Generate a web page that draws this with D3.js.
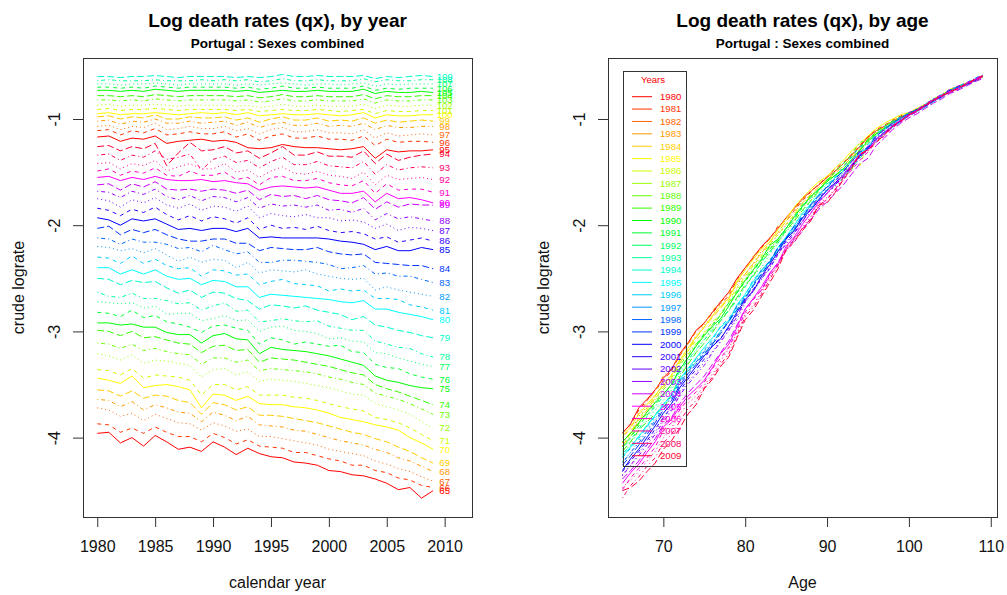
<!DOCTYPE html>
<html>
<head>
<meta charset="utf-8">
<script src="https://cdn.jsdelivr.net/npm/d3@7"></script>
<style>
  body { margin: 0; background: #fff; }
  svg { font-family: "Liberation Sans", Arial, sans-serif; }
</style>
</head>
<body>
<svg id="chart" width="1007" height="595"></svg>
<script>
// calendar years and ages in the table
const years = [1980,1981,1982,1983,1984,1985,1986,1987,1988,1989,1990,1991,1992,1993,1994,
               1995,1996,1997,1998,1999,2000,2001,2002,2003,2004,2005,2006,2007,2008,2009];
const ages = [65,66,67,68,69,70,71,72,73,74,75,76,77,78,79,80,81,82,83,84,85,86,87,88,89,
              90,91,92,93,94,95,96,97,98,99,100,101,102,103,104,105,106,107,108,109];

// tick labels
const yearTicks = [1980,1985,1990,1995,2000,2005,2010];
const ageTicks = [70,80,90,100,110];
const rateTicks = [-4,-3,-2,-1];

// crude log death rates, one array per age, 1980..2009
const r65 = [-3.96,-3.95,-4.05,-4.00,-4.08,-3.98,-4.04,-4.11,-4.09,-4.13,-4.04,-4.09,-4.16,-4.10,-4.15,-4.18,-4.19,-4.23,-4.24,-4.26,-4.31,-4.32,-4.35,-4.36,-4.39,-4.43,-4.49,-4.47,-4.57,-4.50];
const r66 = [-3.87,-3.88,-3.95,-3.91,-3.96,-3.90,-3.95,-3.99,-3.99,-4.04,-3.96,-4.00,-4.06,-4.02,-4.08,-4.09,-4.10,-4.14,-4.14,-4.17,-4.20,-4.22,-4.26,-4.26,-4.31,-4.33,-4.38,-4.40,-4.45,-4.47];
const r67 = [-3.72,-3.74,-3.80,-3.77,-3.84,-3.78,-3.82,-3.86,-3.87,-3.93,-3.86,-3.89,-3.94,-3.92,-3.99,-3.99,-4.01,-4.03,-4.05,-4.07,-4.11,-4.13,-4.15,-4.17,-4.22,-4.25,-4.29,-4.32,-4.37,-4.41];
const r68 = [-3.64,-3.65,-3.71,-3.66,-3.74,-3.69,-3.72,-3.76,-3.77,-3.85,-3.76,-3.79,-3.84,-3.80,-3.88,-3.89,-3.90,-3.93,-3.94,-3.97,-4.00,-4.03,-4.05,-4.07,-4.11,-4.14,-4.19,-4.22,-4.27,-4.32];
const r69 = [-3.55,-3.56,-3.61,-3.56,-3.63,-3.60,-3.61,-3.65,-3.67,-3.78,-3.67,-3.69,-3.74,-3.71,-3.79,-3.79,-3.80,-3.82,-3.84,-3.86,-3.89,-3.92,-3.95,-3.97,-4.01,-4.04,-4.09,-4.13,-4.19,-4.24];
const r70 = [-3.44,-3.46,-3.49,-3.42,-3.53,-3.51,-3.50,-3.52,-3.55,-3.72,-3.59,-3.60,-3.65,-3.61,-3.68,-3.69,-3.69,-3.71,-3.72,-3.74,-3.77,-3.81,-3.83,-3.85,-3.88,-3.90,-3.93,-4.00,-4.05,-4.11];
const r71 = [-3.36,-3.37,-3.41,-3.35,-3.44,-3.41,-3.42,-3.43,-3.46,-3.60,-3.50,-3.50,-3.55,-3.52,-3.60,-3.60,-3.60,-3.62,-3.63,-3.65,-3.68,-3.71,-3.73,-3.75,-3.81,-3.83,-3.86,-3.91,-3.97,-4.03];
const r72 = [-3.21,-3.23,-3.27,-3.22,-3.30,-3.27,-3.28,-3.30,-3.32,-3.43,-3.36,-3.35,-3.41,-3.38,-3.47,-3.45,-3.46,-3.47,-3.49,-3.51,-3.53,-3.56,-3.59,-3.60,-3.68,-3.71,-3.74,-3.78,-3.85,-3.91];
const r73 = [-3.11,-3.12,-3.16,-3.12,-3.18,-3.16,-3.19,-3.21,-3.22,-3.31,-3.25,-3.25,-3.29,-3.27,-3.37,-3.35,-3.36,-3.37,-3.38,-3.40,-3.43,-3.45,-3.48,-3.50,-3.58,-3.61,-3.64,-3.68,-3.73,-3.78];
const r74 = [-2.99,-3.00,-3.04,-3.00,-3.06,-3.05,-3.08,-3.11,-3.12,-3.20,-3.14,-3.13,-3.18,-3.17,-3.29,-3.25,-3.26,-3.27,-3.29,-3.31,-3.33,-3.36,-3.39,-3.41,-3.50,-3.54,-3.57,-3.61,-3.65,-3.69];
const r75 = [-2.92,-2.92,-2.94,-2.93,-2.96,-2.96,-3.01,-3.03,-3.03,-3.11,-3.04,-3.02,-3.07,-3.08,-3.21,-3.15,-3.17,-3.18,-3.19,-3.21,-3.23,-3.26,-3.29,-3.32,-3.42,-3.46,-3.48,-3.51,-3.53,-3.54];
const r76 = [-2.82,-2.83,-2.86,-2.80,-2.87,-2.85,-2.91,-2.93,-2.96,-3.01,-2.95,-2.94,-2.97,-2.99,-3.12,-3.06,-3.08,-3.12,-3.10,-3.12,-3.14,-3.13,-3.19,-3.20,-3.31,-3.34,-3.35,-3.40,-3.43,-3.45];
const r77 = [-2.72,-2.73,-2.74,-2.73,-2.78,-2.76,-2.84,-2.83,-2.83,-2.90,-2.88,-2.85,-2.90,-2.89,-3.00,-2.96,-2.95,-2.99,-3.00,-3.02,-3.07,-3.06,-3.09,-3.10,-3.20,-3.21,-3.25,-3.28,-3.31,-3.33];
const r78 = [-2.63,-2.67,-2.68,-2.64,-2.69,-2.69,-2.71,-2.74,-2.73,-2.80,-2.76,-2.73,-2.81,-2.80,-2.91,-2.90,-2.88,-2.90,-2.91,-2.90,-2.95,-2.97,-2.99,-2.99,-3.09,-3.12,-3.15,-3.16,-3.21,-3.24];
const r79 = [-2.50,-2.51,-2.56,-2.52,-2.54,-2.53,-2.59,-2.64,-2.61,-2.68,-2.63,-2.64,-2.69,-2.71,-2.79,-2.75,-2.76,-2.78,-2.76,-2.80,-2.82,-2.84,-2.89,-2.86,-2.94,-2.96,-2.99,-3.01,-3.04,-3.06];
const r80 = [-2.40,-2.40,-2.46,-2.42,-2.46,-2.42,-2.48,-2.51,-2.50,-2.56,-2.52,-2.53,-2.58,-2.58,-2.68,-2.65,-2.66,-2.67,-2.68,-2.69,-2.70,-2.72,-2.73,-2.71,-2.79,-2.79,-2.82,-2.84,-2.86,-2.89];
const r81 = [-2.30,-2.31,-2.36,-2.29,-2.36,-2.32,-2.38,-2.41,-2.40,-2.48,-2.42,-2.43,-2.47,-2.46,-2.56,-2.53,-2.51,-2.55,-2.56,-2.57,-2.62,-2.60,-2.62,-2.61,-2.69,-2.69,-2.70,-2.75,-2.77,-2.80];
const r82 = [-2.20,-2.21,-2.24,-2.22,-2.26,-2.22,-2.28,-2.34,-2.30,-2.35,-2.32,-2.33,-2.40,-2.35,-2.45,-2.42,-2.43,-2.44,-2.42,-2.46,-2.48,-2.50,-2.51,-2.50,-2.61,-2.58,-2.61,-2.63,-2.65,-2.67];
const r83 = [-2.12,-2.13,-2.18,-2.13,-2.16,-2.16,-2.18,-2.22,-2.21,-2.25,-2.19,-2.23,-2.27,-2.25,-2.35,-2.35,-2.33,-2.33,-2.34,-2.35,-2.37,-2.41,-2.40,-2.38,-2.46,-2.45,-2.48,-2.48,-2.51,-2.54];
const r84 = [-2.03,-2.01,-2.09,-2.04,-2.07,-2.04,-2.09,-2.13,-2.15,-2.15,-2.13,-2.13,-2.17,-2.17,-2.24,-2.21,-2.22,-2.23,-2.23,-2.21,-2.25,-2.27,-2.28,-2.27,-2.35,-2.36,-2.37,-2.38,-2.38,-2.41];
const r85 = [-1.93,-1.95,-2.00,-1.94,-1.96,-1.94,-1.99,-2.04,-2.03,-2.05,-2.03,-2.03,-2.06,-2.03,-2.12,-2.11,-2.12,-2.12,-2.12,-2.12,-2.13,-2.15,-2.16,-2.18,-2.23,-2.20,-2.24,-2.24,-2.21,-2.23];
const r86 = [-1.84,-1.86,-1.91,-1.85,-1.88,-1.83,-1.90,-1.95,-1.91,-1.96,-1.92,-1.94,-1.98,-1.93,-2.04,-2.00,-2.03,-2.02,-2.04,-2.01,-2.05,-2.07,-2.06,-2.08,-2.13,-2.11,-2.16,-2.14,-2.12,-2.15];
const r87 = [-1.75,-1.77,-1.83,-1.76,-1.79,-1.74,-1.81,-1.84,-1.80,-1.86,-1.82,-1.83,-1.87,-1.82,-1.93,-1.89,-1.91,-1.92,-1.90,-1.93,-1.93,-1.96,-1.95,-1.97,-2.03,-1.99,-2.05,-2.02,-2.03,-2.05];
const r88 = [-1.68,-1.69,-1.74,-1.68,-1.71,-1.66,-1.73,-1.76,-1.72,-1.77,-1.73,-1.74,-1.78,-1.74,-1.84,-1.80,-1.82,-1.81,-1.83,-1.81,-1.86,-1.85,-1.88,-1.84,-1.95,-1.89,-1.94,-1.92,-1.94,-1.96];
const r89 = [-1.62,-1.61,-1.67,-1.61,-1.64,-1.59,-1.66,-1.67,-1.66,-1.68,-1.66,-1.67,-1.70,-1.67,-1.76,-1.71,-1.73,-1.72,-1.75,-1.72,-1.76,-1.77,-1.79,-1.74,-1.85,-1.78,-1.83,-1.80,-1.81,-1.81];
const r90 = [-1.55,-1.54,-1.58,-1.55,-1.57,-1.54,-1.57,-1.58,-1.58,-1.57,-1.59,-1.58,-1.60,-1.61,-1.67,-1.64,-1.63,-1.64,-1.65,-1.64,-1.67,-1.70,-1.70,-1.68,-1.78,-1.70,-1.75,-1.74,-1.76,-1.79];
const r91 = [-1.49,-1.47,-1.53,-1.49,-1.51,-1.46,-1.53,-1.54,-1.49,-1.53,-1.53,-1.50,-1.57,-1.55,-1.62,-1.55,-1.54,-1.58,-1.58,-1.56,-1.60,-1.62,-1.63,-1.58,-1.70,-1.61,-1.67,-1.66,-1.66,-1.69];
const r92 = [-1.42,-1.41,-1.47,-1.42,-1.44,-1.39,-1.49,-1.45,-1.42,-1.47,-1.47,-1.42,-1.50,-1.48,-1.55,-1.49,-1.45,-1.51,-1.52,-1.49,-1.53,-1.54,-1.56,-1.50,-1.62,-1.53,-1.57,-1.56,-1.55,-1.57];
const r93 = [-1.34,-1.33,-1.39,-1.34,-1.36,-1.30,-1.38,-1.36,-1.33,-1.48,-1.38,-1.35,-1.41,-1.39,-1.46,-1.40,-1.36,-1.43,-1.43,-1.40,-1.44,-1.45,-1.46,-1.40,-1.52,-1.43,-1.48,-1.46,-1.45,-1.46];
const r94 = [-1.26,-1.25,-1.30,-1.26,-1.28,-1.23,-1.44,-1.32,-1.22,-1.30,-1.29,-1.26,-1.32,-1.30,-1.37,-1.32,-1.26,-1.34,-1.34,-1.31,-1.35,-1.35,-1.36,-1.30,-1.42,-1.33,-1.39,-1.36,-1.34,-1.33];
const r95 = [-1.17,-1.16,-1.21,-1.18,-1.19,-1.16,-1.23,-1.21,-1.20,-1.19,-1.21,-1.20,-1.22,-1.27,-1.28,-1.27,-1.24,-1.26,-1.27,-1.27,-1.28,-1.29,-1.28,-1.26,-1.37,-1.29,-1.31,-1.30,-1.30,-1.29];
const r96 = [-1.11,-1.10,-1.15,-1.11,-1.13,-1.09,-1.15,-1.14,-1.12,-1.14,-1.14,-1.12,-1.17,-1.14,-1.20,-1.16,-1.14,-1.18,-1.18,-1.16,-1.19,-1.19,-1.20,-1.16,-1.25,-1.19,-1.22,-1.21,-1.21,-1.22];
const r97 = [-1.07,-1.06,-1.10,-1.07,-1.08,-1.04,-1.10,-1.09,-1.07,-1.09,-1.09,-1.07,-1.11,-1.09,-1.14,-1.10,-1.08,-1.12,-1.12,-1.10,-1.13,-1.13,-1.14,-1.10,-1.18,-1.13,-1.16,-1.15,-1.14,-1.15];
const r98 = [-1.02,-1.01,-1.05,-1.02,-1.03,-1.00,-1.04,-1.04,-1.02,-1.04,-1.03,-1.02,-1.06,-1.03,-1.08,-1.05,-1.03,-1.06,-1.06,-1.04,-1.07,-1.06,-1.07,-1.04,-1.10,-1.06,-1.08,-1.08,-1.07,-1.07];
const r99 = [-0.98,-0.97,-1.00,-0.98,-0.99,-0.96,-1.00,-1.00,-0.98,-0.99,-0.99,-0.98,-1.01,-0.99,-1.03,-1.00,-0.98,-1.01,-1.01,-0.99,-1.02,-1.01,-1.02,-0.99,-1.04,-1.01,-1.03,-1.02,-1.01,-1.02];
const r100 = [-0.95,-0.94,-0.96,-0.95,-0.95,-0.94,-0.95,-0.96,-0.95,-0.94,-0.95,-0.94,-0.96,-0.94,-0.97,-0.96,-0.95,-0.96,-0.96,-0.95,-0.96,-0.97,-0.96,-0.94,-0.99,-0.96,-0.97,-0.97,-0.96,-0.96];
const r101 = [-0.91,-0.90,-0.92,-0.91,-0.91,-0.90,-0.91,-0.92,-0.91,-0.91,-0.91,-0.91,-0.92,-0.91,-0.93,-0.92,-0.91,-0.92,-0.92,-0.91,-0.92,-0.93,-0.92,-0.91,-0.95,-0.92,-0.93,-0.93,-0.92,-0.92];
const r102 = [-0.87,-0.86,-0.88,-0.87,-0.87,-0.86,-0.87,-0.88,-0.87,-0.87,-0.87,-0.87,-0.88,-0.87,-0.89,-0.88,-0.86,-0.88,-0.88,-0.87,-0.88,-0.88,-0.88,-0.86,-0.90,-0.87,-0.88,-0.88,-0.87,-0.87];
const r103 = [-0.82,-0.82,-0.83,-0.82,-0.83,-0.81,-0.82,-0.83,-0.82,-0.82,-0.82,-0.82,-0.83,-0.82,-0.84,-0.83,-0.81,-0.83,-0.83,-0.82,-0.83,-0.83,-0.83,-0.81,-0.85,-0.82,-0.83,-0.83,-0.82,-0.82];
const r104 = [-0.78,-0.78,-0.79,-0.78,-0.79,-0.77,-0.78,-0.79,-0.78,-0.78,-0.78,-0.78,-0.79,-0.78,-0.80,-0.79,-0.77,-0.79,-0.79,-0.78,-0.79,-0.79,-0.79,-0.77,-0.81,-0.78,-0.79,-0.79,-0.78,-0.78];
const r105 = [-0.73,-0.73,-0.74,-0.73,-0.74,-0.72,-0.73,-0.74,-0.73,-0.73,-0.73,-0.73,-0.74,-0.73,-0.75,-0.74,-0.73,-0.74,-0.74,-0.73,-0.74,-0.74,-0.74,-0.72,-0.76,-0.74,-0.75,-0.75,-0.74,-0.75];
const r106 = [-0.70,-0.70,-0.71,-0.70,-0.71,-0.69,-0.70,-0.71,-0.70,-0.70,-0.70,-0.70,-0.71,-0.70,-0.72,-0.71,-0.69,-0.71,-0.71,-0.70,-0.71,-0.71,-0.71,-0.69,-0.73,-0.71,-0.72,-0.71,-0.71,-0.71];
const r107 = [-0.67,-0.67,-0.68,-0.67,-0.67,-0.66,-0.67,-0.68,-0.67,-0.67,-0.67,-0.67,-0.68,-0.67,-0.68,-0.67,-0.66,-0.67,-0.68,-0.67,-0.67,-0.68,-0.67,-0.66,-0.69,-0.67,-0.68,-0.67,-0.67,-0.67];
const r108 = [-0.64,-0.63,-0.64,-0.64,-0.64,-0.63,-0.64,-0.64,-0.64,-0.63,-0.64,-0.63,-0.64,-0.63,-0.65,-0.64,-0.62,-0.64,-0.64,-0.63,-0.64,-0.64,-0.64,-0.62,-0.65,-0.63,-0.64,-0.64,-0.63,-0.63];
const r109 = [-0.60,-0.60,-0.61,-0.60,-0.60,-0.59,-0.60,-0.61,-0.60,-0.60,-0.60,-0.60,-0.61,-0.60,-0.61,-0.60,-0.58,-0.60,-0.60,-0.59,-0.60,-0.60,-0.60,-0.59,-0.62,-0.60,-0.61,-0.60,-0.59,-0.60];

const rates = [r65,r66,r67,r68,r69,r70,r71,r72,r73,r74,r75,r76,r77,r78,r79,r80,r81,r82,r83,r84,
               r85,r86,r87,r88,r89,r90,r91,r92,r93,r94,r95,r96,r97,r98,r99,r100,r101,r102,r103,r104,
               r105,r106,r107,r108,r109];

// R style: rainbow(30) recycled, lty 1:5 recycled
const rainbow = d3.range(30).map(i => d3.hsl(i * 12, 1, 0.5).formatHex());
const ltys = [null, "4,4", "1,3", "1,3,4,3", "7,3"];
const FONT = '"Liberation Sans", Arial, sans-serif';

const svg = d3.select('#chart');

const plotTop = 58, plotBottom = 517;
const y = d3.scaleLinear().domain([-4.7476, -0.4256]).range([plotBottom, plotTop]);
const xL = d3.scaleLinear().domain([1978.77, 2012.36]).range([83, 472]);
const xR = d3.scaleLinear().domain([63.24, 110.76]).range([608, 997]);

// draw one frame with axes and titles
function frame(x, ticks, title, xlab) {
  const [x0, x1] = x.range();
  const cx = (x0 + x1) / 2;

  svg.append('text').attr('x', cx).attr('y', 27).attr('text-anchor', 'middle')
    .attr('font-size', 19).attr('font-weight', 'bold').attr('fill', '#000').text(title);
  svg.append('text').attr('x', cx).attr('y', 48).attr('text-anchor', 'middle')
    .attr('font-size', 13.5).attr('font-weight', 'bold').attr('fill', '#000').text('Portugal : Sexes combined');

  const gx = svg.append('g').attr('transform', `translate(0,${plotBottom})`)
    .call(d3.axisBottom(x).tickValues(ticks).tickSize(10).tickPadding(14).tickFormat(d => String(d)));
  gx.select('.domain').remove();
  gx.attr('font-family', FONT).attr('font-size', 16);
  gx.selectAll('line').attr('stroke', '#333');
  gx.selectAll('text').attr('fill', '#111');

  const gy = svg.append('g').attr('transform', `translate(${x0},0)`)
    .call(d3.axisLeft(y).tickValues(rateTicks).tickSize(10).tickFormat(d => String(d)));
  gy.select('.domain').remove();
  gy.attr('font-family', FONT).attr('font-size', 16);
  gy.selectAll('line').attr('stroke', '#333');
  gy.selectAll('text').attr('fill', '#111').attr('x', 0).attr('dy', 0)
    .attr('text-anchor', 'middle').attr('transform', 'translate(-23,0) rotate(-90)');

  svg.append('text').attr('x', cx).attr('y', 588).attr('text-anchor', 'middle')
    .attr('font-size', 16).attr('fill', '#111').text(xlab);
  svg.append('text').attr('transform', `translate(${x0 - 59},${(plotTop + plotBottom) / 2}) rotate(-90)`)
    .attr('text-anchor', 'middle').attr('font-size', 16).attr('fill', '#111').text('crude lograte');

  svg.append('rect').attr('x', x0 + 0.5).attr('y', plotTop + 0.5)
    .attr('width', x1 - x0).attr('height', plotBottom - plotTop)
    .attr('fill', 'none').attr('stroke', '#333').attr('stroke-width', 1);
}

svg.attr('font-family', FONT);

frame(xL, yearTicks, 'Log death rates (qx), by year', 'calendar year');
frame(xR, ageTicks, 'Log death rates (qx), by age', 'Age');

// left panel: one line per age across years
const lineL = d3.line().x((d, j) => xL(years[j])).y(d => y(d));
svg.append('g').selectAll('path').data(rates).join('path')
  .attr('d', lineL)
  .attr('fill', 'none')
  .attr('stroke', (d, i) => rainbow[i % 30])
  .attr('stroke-width', 1)
  .attr('stroke-dasharray', (d, i) => ltys[i % 5]);

svg.append('g').selectAll('text').data(rates).join('text')
  .attr('x', xL(2010))
  .attr('y', d => y(d[d.length - 1]))
  .attr('dy', '0.35em')
  .attr('text-anchor', 'middle')
  .attr('font-size', 9.6)
  .attr('fill', (d, i) => rainbow[i % 30])
  .text((d, i) => ages[i]);

// right panel: one line per year across ages
const byYear = years.map((yr, j) => rates.map(r => r[j]));
const lineR = d3.line().x((d, i) => xR(ages[i])).y(d => y(d));
svg.append('g').selectAll('path').data(byYear).join('path')
  .attr('d', lineR)
  .attr('fill', 'none')
  .attr('stroke', (d, j) => rainbow[j % 30])
  .attr('stroke-width', 1)
  .attr('stroke-dasharray', (d, j) => ltys[j % 5]);

// legend
const lg = svg.append('g');
lg.append('rect').attr('x', 623.5).attr('y', 71.5).attr('width', 63).attr('height', 395)
  .attr('fill', 'none').attr('stroke', '#333');
lg.append('text').attr('x', 653).attr('y', 83).attr('text-anchor', 'middle')
  .attr('font-size', 9.6).attr('fill', rainbow[0]).text('Years');
const item = lg.selectAll('g.item').data(years).join('g').attr('class', 'item')
  .attr('transform', (d, j) => `translate(0,${96.7 + j * 12.38})`);
item.append('line').attr('x1', 632).attr('x2', 652).attr('y1', 0).attr('y2', 0)
  .attr('stroke', (d, j) => rainbow[j % 30]).attr('stroke-width', 1);
item.append('text').attr('x', 660).attr('y', 0).attr('dy', '0.35em')
  .attr('font-size', 9.6).attr('fill', (d, j) => rainbow[j % 30]).text(d => d);
</script>
</body>
</html>
